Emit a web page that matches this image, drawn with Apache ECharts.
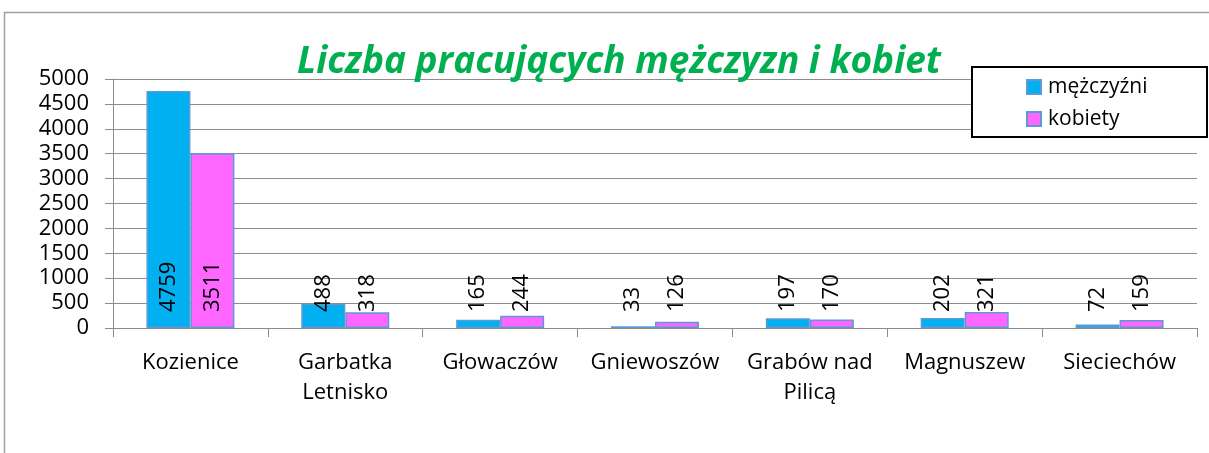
<!DOCTYPE html>
<html>
<head>
<meta charset="utf-8">
<script src="https://cdn.jsdelivr.net/npm/echarts@6/dist/echarts.min.js"></script>
<style>
  html, body { margin: 0; padding: 0; background: #fff; }
  #chart { width: 1209px; height: 453px; }
</style>
</head>
<body>
<div id="chart"></div>
<script>
const categories = ['Kozienice', 'Garbatka\nLetnisko', 'Głowaczów', 'Gniewoszów', 'Grabów nad\nPilicą', 'Magnuszew', 'Sieciechów'];
const men = [4759, 488, 165, 33, 197, 202, 72];
const women = [3511, 318, 244, 126, 170, 321, 159];
const seriesNames = ['mężczyźni', 'kobiety'];

const FONT = 'Open Sans';
const COLORS = {
  MEN: '#00B0F0',
  WOMEN: '#FF66FF',
  BORDER: '#5B9BD5',
  GRID: '#8c8c8c',
  TITLE: '#00B050',
};

const barLabel = {
  show: true,
  position: 'insideBottom',
  distance: 16,
  rotate: 90,
  align: 'left',
  verticalAlign: 'middle',
  color: '#000',
  fontFamily: FONT,
  fontSize: 22,
};

const chart = echarts.init(document.getElementById('chart'), null, { renderer: 'canvas' });

chart.setOption({
  animation: false,
  title: {
    text: 'Liczba pracujących mężczyzn i kobiet',
    left: 614,
    textAlign: 'center',
    top: 39,
    textStyle: {
      color: COLORS.TITLE,
      fontFamily: FONT,
      fontStyle: 'italic',
      fontWeight: 'bold',
      fontSize: 37,
    },
  },
  graphic: [
    {
      type: 'rect',
      z: -10,
      silent: true,
      shape: { x: 4.5, y: 12.5, width: 1300, height: 500 },
      style: { fill: 'none', stroke: '#a0a0a0', lineWidth: 1.5 },
    },
    {
      // legend frame
      type: 'rect',
      z: 5,
      silent: true,
      shape: { x: 972, y: 67, width: 235, height: 70 },
      style: { fill: '#fff', stroke: '#000', lineWidth: 2 },
    },
  ],
  legend: {
    data: seriesNames,
    orient: 'vertical',
    left: 1026,
    top: 76,
    padding: 0,
    itemGap: 10,
    itemWidth: 14,
    itemHeight: 14,
    textStyle: { fontFamily: FONT, fontSize: 21, lineHeight: 22, color: '#000', padding: [0, 0, 0, 2] },
    icon: 'rect',
    z: 10,
  },
  grid: {
    left: 113,
    right: 12,
    top: 79,
    bottom: 125,
    containLabel: false,
  },
  xAxis: {
    type: 'category',
    data: categories,
    axisLine: { show: true, lineStyle: { color: COLORS.GRID, width: 1 } },
    axisTick: { show: true, length: 9, lineStyle: { color: COLORS.GRID } },
    axisLabel: {
      interval: 0,
      margin: 20,
      fontFamily: FONT,
      fontSize: 22,
      lineHeight: 30,
      color: '#000',
    },
  },
  yAxis: {
    type: 'value',
    min: 0,
    max: 5000,
    interval: 500,
    axisLine: { show: true, lineStyle: { color: COLORS.GRID, width: 1 } },
    axisTick: { show: true, length: 8, lineStyle: { color: COLORS.GRID } },
    splitLine: { show: true, lineStyle: { color: COLORS.GRID, width: 1 } },
    axisLabel: {
      margin: 24,
      fontFamily: FONT,
      fontSize: 22,
      color: '#000',
      formatter: (v) => String(v),
    },
  },
  series: [
    {
      name: seriesNames[0],
      type: 'bar',
      data: men,
      barWidth: 44,
      barGap: '0%',
      itemStyle: { color: COLORS.MEN, borderColor: COLORS.BORDER, borderWidth: 1.5 },
      label: barLabel,
    },
    {
      name: seriesNames[1],
      type: 'bar',
      data: women,
      barWidth: 44,
      barGap: '0%',
      itemStyle: { color: COLORS.WOMEN, borderColor: COLORS.BORDER, borderWidth: 1.5 },
      label: barLabel,
    },
  ],
});
</script>
</body>
</html>
